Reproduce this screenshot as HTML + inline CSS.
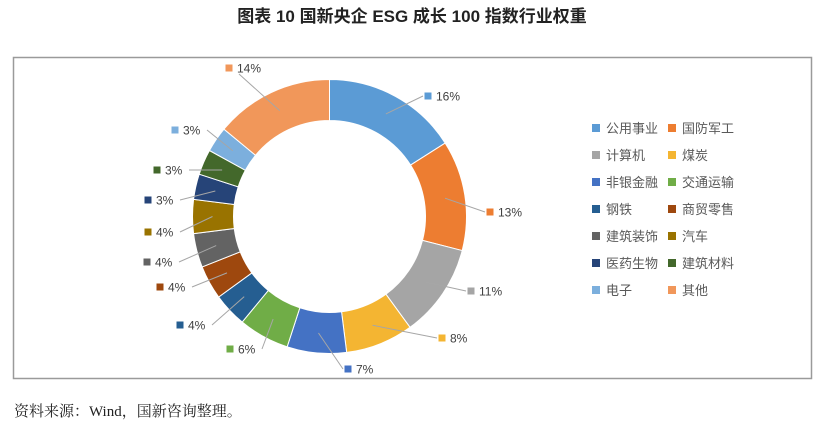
<!DOCTYPE html>
<html><head><meta charset="utf-8"><style>
body{margin:0;background:#fff;width:825px;height:429px;overflow:hidden;font-family:"Liberation Sans","Noto Sans CJK SC",sans-serif}
</style></head><body>
<svg id="s" width="825" height="429" xmlns="http://www.w3.org/2000/svg">
<text x="412" y="22" text-anchor="middle" font-size="17" font-weight="bold" fill="#222" font-family="Liberation Sans,Noto Sans CJK SC,sans-serif">图表 10  国新央企 ESG 成长 100 指数行业权重</text>
<rect x="13.5" y="57.5" width="798" height="321" fill="#fff" stroke="#9a9a9a" stroke-width="1.5"/>
<text x="14" y="416" font-size="15" fill="#222" font-family="Liberation Serif,Noto Serif CJK SC,serif">资料来源：Wind，国新咨询整理。</text>
<g id="d"></g>
<g id="l" font-size="12" fill="#404040"></g>
<g id="lg" font-size="13" fill="#595959"></g>
</svg>
<script>
var cx=329.5,cy=216.5,R=137,r=96;
var v=[16,13,11,8,7,6,4,4,4,4,3,3,3,14];
var c=["#5b9bd5","#ed7d31","#a5a5a5","#f4b532","#4472c4","#70ad47","#255e91","#9e480e","#636363","#997300","#264478","#43682b","#7cafdd","#f1975a"];
var n=["公用事业","国防军工","计算机","煤炭","非银金融","交通运输","钢铁","商贸零售","建筑装饰","汽车","医药生物","建筑材料","电子","其他"];
var lab=[[428,96,1],[490,212,1],[471,291,1],[442,338,1],[348,369,1],[230,349,1],[180,325,0],[160,287,0],[147,262,0],[148,232,0],[148,200,0],[157,170,0],[175,130,0],[229,68,1]];
var d=document.getElementById('d'),L=document.getElementById('l'),G=document.getElementById('lg');
var h='',a=0,lh='',gg='';
function P(rad,ang){return [cx+rad*Math.sin(ang),cy-rad*Math.cos(ang)];}
for(var i=0;i<v.length;i++){
 var a0=a*2*Math.PI/100,a1=(a+v[i])*2*Math.PI/100;a+=v[i];
 var p1=P(R,a0),p2=P(R,a1),p3=P(r,a1),p4=P(r,a0),lg=v[i]>50?1:0;
 h+='<path d="M'+p1+' A'+R+' '+R+' 0 '+lg+' 1 '+p2+' L'+p3+' A'+r+' '+r+' 0 '+lg+' 0 '+p4+'Z" fill="'+c[i]+'" stroke="#fff" stroke-width="1"/>';
 var m=P(117,(a0+a1)/2),q=lab[i];
 var ax=q[0]>cx?q[0]-5:q[0]+32; if(i==13)ax=q[0]+10; if(i==4)ax=q[0]-5;
 lh+='<line x1="'+m[0]+'" y1="'+m[1]+'" x2="'+ax+'" y2="'+(q[1]+(i==13?6:0))+'" stroke="#a6a6a6" stroke-width="1"/>';
 lh+='<rect x="'+(q[0]-3.5)+'" y="'+(q[1]-3.5)+'" width="7" height="7" fill="'+c[i]+'"/>';
 lh+='<text x="'+(q[0]+8)+'" y="'+(q[1]+4.5)+'">'+v[i]+'%</text>';
 var col=i%2,row=Math.floor(i/2),x=col?672:596,y=128+row*27;
 gg+='<rect x="'+(x-4)+'" y="'+(y-4)+'" width="8" height="8" fill="'+c[i]+'"/><text x="'+(x+10)+'" y="'+(y+5)+'">'+n[i]+'</text>';
}
d.innerHTML=h;L.innerHTML=lh;G.innerHTML=gg;
</script>
</body></html>
